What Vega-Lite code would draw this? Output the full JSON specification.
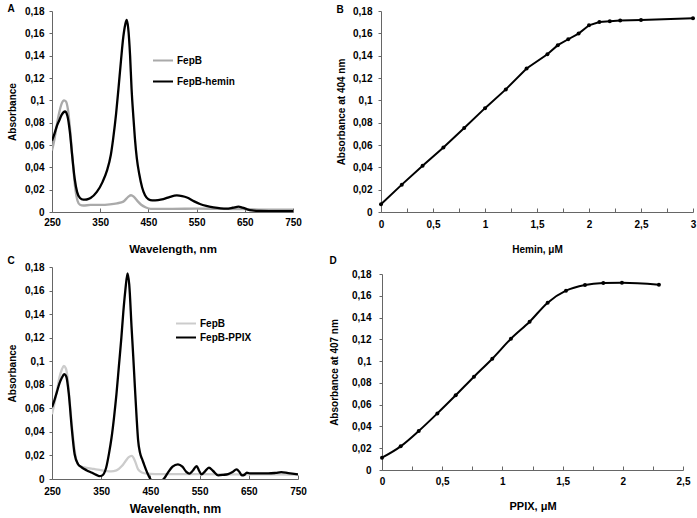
{
  "$schema": "https://vega.github.io/schema/vega-lite/v6.json",
  "autosize": {"type": "pad"},
  "padding": {"left": 7, "top": 4, "right": 0, "bottom": 0},
  "background": "white",
  "spacing": 1,
  "resolve": {"scale": {"color": "independent"}, "legend": {"color": "independent"}},
  "config": {
    "font": "Liberation Sans",
    "view": {"stroke": null},
    "axis": {
      "grid": false,
      "domainColor": "#666666",
      "tickColor": "#666666",
      "labelFont": "Liberation Sans",
      "titleFont": "Liberation Sans",
      "labelFontWeight": "bold",
      "titleFontWeight": "bold",
      "labelFontSize": 10,
      "titleFontSize": 10,
      "labelColor": "#000000",
      "titleColor": "#000000",
      "labelOverlap": false,
      "labelFlush": false
    },
    "title": {"font": "Liberation Sans", "fontSize": 10, "fontWeight": "bold", "anchor": "start", "frame": "bounds", "color": "#000000"},
    "legend": {"labelFont": "Liberation Sans", "labelFontSize": 10, "labelFontWeight": "bold", "labelColor": "#000000"}
  },
  "vconcat": [
    {
      "spacing": 34,
      "resolve": {"scale": {"color": "independent"}, "legend": {"color": "independent"}},
      "hconcat": [
        {
          "width": 241,
          "height": 201,
          "title": {"text": "A", "offset": -8},
          "data": {"values": [
            {"s": "FepB", "wl": 250, "a": 0.055}, {"s": "FepB", "wl": 255, "a": 0.065}, {"s": "FepB", "wl": 260, "a": 0.078}, {"s": "FepB", "wl": 265, "a": 0.089}, {"s": "FepB", "wl": 270, "a": 0.097}, {"s": "FepB", "wl": 275, "a": 0.1}, {"s": "FepB", "wl": 279, "a": 0.099}, {"s": "FepB", "wl": 283, "a": 0.092}, {"s": "FepB", "wl": 288, "a": 0.072}, {"s": "FepB", "wl": 293, "a": 0.045}, {"s": "FepB", "wl": 298, "a": 0.022}, {"s": "FepB", "wl": 303, "a": 0.01}, {"s": "FepB", "wl": 308, "a": 0.0065}, {"s": "FepB", "wl": 315, "a": 0.0058}, {"s": "FepB", "wl": 330, "a": 0.0063}, {"s": "FepB", "wl": 350, "a": 0.0063}, {"s": "FepB", "wl": 370, "a": 0.0068}, {"s": "FepB", "wl": 385, "a": 0.0078}, {"s": "FepB", "wl": 398, "a": 0.0093}, {"s": "FepB", "wl": 408, "a": 0.0135}, {"s": "FepB", "wl": 414, "a": 0.015}, {"s": "FepB", "wl": 420, "a": 0.0135}, {"s": "FepB", "wl": 428, "a": 0.0095}, {"s": "FepB", "wl": 435, "a": 0.0065}, {"s": "FepB", "wl": 445, "a": 0.004}, {"s": "FepB", "wl": 455, "a": 0.0028}, {"s": "FepB", "wl": 500, "a": 0.0028}, {"s": "FepB", "wl": 550, "a": 0.003}, {"s": "FepB", "wl": 600, "a": 0.0028}, {"s": "FepB", "wl": 650, "a": 0.0025}, {"s": "FepB", "wl": 700, "a": 0.002}, {"s": "FepB", "wl": 750, "a": 0.002},
            {"s": "FepB-hemin", "wl": 250, "a": 0.064}, {"s": "FepB-hemin", "wl": 255, "a": 0.07}, {"s": "FepB-hemin", "wl": 260, "a": 0.077}, {"s": "FepB-hemin", "wl": 265, "a": 0.082}, {"s": "FepB-hemin", "wl": 270, "a": 0.087}, {"s": "FepB-hemin", "wl": 277, "a": 0.09}, {"s": "FepB-hemin", "wl": 282, "a": 0.086}, {"s": "FepB-hemin", "wl": 287, "a": 0.072}, {"s": "FepB-hemin", "wl": 292, "a": 0.05}, {"s": "FepB-hemin", "wl": 297, "a": 0.03}, {"s": "FepB-hemin", "wl": 302, "a": 0.018}, {"s": "FepB-hemin", "wl": 308, "a": 0.0125}, {"s": "FepB-hemin", "wl": 315, "a": 0.011}, {"s": "FepB-hemin", "wl": 322, "a": 0.0112}, {"s": "FepB-hemin", "wl": 330, "a": 0.0125}, {"s": "FepB-hemin", "wl": 343, "a": 0.018}, {"s": "FepB-hemin", "wl": 355, "a": 0.027}, {"s": "FepB-hemin", "wl": 364, "a": 0.037}, {"s": "FepB-hemin", "wl": 372, "a": 0.051}, {"s": "FepB-hemin", "wl": 377, "a": 0.066}, {"s": "FepB-hemin", "wl": 383, "a": 0.088}, {"s": "FepB-hemin", "wl": 388, "a": 0.111}, {"s": "FepB-hemin", "wl": 393, "a": 0.135}, {"s": "FepB-hemin", "wl": 398, "a": 0.157}, {"s": "FepB-hemin", "wl": 402, "a": 0.168}, {"s": "FepB-hemin", "wl": 405, "a": 0.172}, {"s": "FepB-hemin", "wl": 408, "a": 0.165}, {"s": "FepB-hemin", "wl": 412, "a": 0.14}, {"s": "FepB-hemin", "wl": 415, "a": 0.111}, {"s": "FepB-hemin", "wl": 419, "a": 0.084}, {"s": "FepB-hemin", "wl": 422, "a": 0.066}, {"s": "FepB-hemin", "wl": 426, "a": 0.048}, {"s": "FepB-hemin", "wl": 431, "a": 0.034}, {"s": "FepB-hemin", "wl": 437, "a": 0.022}, {"s": "FepB-hemin", "wl": 443, "a": 0.015}, {"s": "FepB-hemin", "wl": 450, "a": 0.0115}, {"s": "FepB-hemin", "wl": 458, "a": 0.0105}, {"s": "FepB-hemin", "wl": 470, "a": 0.0107}, {"s": "FepB-hemin", "wl": 481, "a": 0.0115}, {"s": "FepB-hemin", "wl": 495, "a": 0.0136}, {"s": "FepB-hemin", "wl": 509, "a": 0.0148}, {"s": "FepB-hemin", "wl": 520, "a": 0.0142}, {"s": "FepB-hemin", "wl": 530, "a": 0.013}, {"s": "FepB-hemin", "wl": 545, "a": 0.0095}, {"s": "FepB-hemin", "wl": 557, "a": 0.0072}, {"s": "FepB-hemin", "wl": 570, "a": 0.0055}, {"s": "FepB-hemin", "wl": 585, "a": 0.0042}, {"s": "FepB-hemin", "wl": 600, "a": 0.0033}, {"s": "FepB-hemin", "wl": 612, "a": 0.003}, {"s": "FepB-hemin", "wl": 625, "a": 0.0038}, {"s": "FepB-hemin", "wl": 637, "a": 0.0048}, {"s": "FepB-hemin", "wl": 645, "a": 0.004}, {"s": "FepB-hemin", "wl": 655, "a": 0.0024}, {"s": "FepB-hemin", "wl": 665, "a": 0.0014}, {"s": "FepB-hemin", "wl": 680, "a": 0.0009}, {"s": "FepB-hemin", "wl": 700, "a": 0.0008}, {"s": "FepB-hemin", "wl": 750, "a": 0.0008}
          ]},
          "mark": {"type": "line", "interpolate": "monotone", "strokeWidth": 2.3, "clip": true},
          "encoding": {
            "x": {"field": "wl", "type": "quantitative", "scale": {"domain": [250, 750], "nice": false},
              "axis": {"title": "Wavelength, nm", "titleFontSize": 11.5, "values": [250, 350, 450, 550, 650, 750], "tickSize": -4, "labelPadding": 9, "titlePadding": 16}},
            "y": {"field": "a", "type": "quantitative", "scale": {"domain": [0, 0.18], "nice": false},
              "axis": {"title": "Absorbance", "values": [0, 0.02, 0.04, 0.06, 0.08, 0.1, 0.12, 0.14, 0.16, 0.18], "labelExpr": "replace(format(datum.value, '~g'), '.', ',')", "tickSize": 3, "labelPadding": 5, "titlePadding": 7}},
            "color": {"field": "s", "type": "nominal", "scale": {"domain": ["FepB", "FepB-hemin"], "range": ["#aaaaaa", "#000000"]},
              "legend": {"orient": "none", "legendX": 100, "legendY": 41, "title": null, "symbolType": "stroke", "symbolSize": 400, "symbolStrokeWidth": 2, "labelOffset": 3, "clipHeight": 17, "rowPadding": 4}}
          }
        },
        {
          "width": 312,
          "height": 201,
          "title": {"text": "B", "offset": -9},
          "data": {"values": [
            {"c": 0, "a": 0.007}, {"c": 0.2, "a": 0.0245}, {"c": 0.4, "a": 0.0415}, {"c": 0.6, "a": 0.0578}, {"c": 0.8, "a": 0.0753}, {"c": 1.0, "a": 0.093}, {"c": 1.2, "a": 0.1098}, {"c": 1.4, "a": 0.1285}, {"c": 1.6, "a": 0.1413}, {"c": 1.7, "a": 0.1494}, {"c": 1.8, "a": 0.1547}, {"c": 1.9, "a": 0.1598}, {"c": 2.0, "a": 0.1672}, {"c": 2.1, "a": 0.1702}, {"c": 2.2, "a": 0.1708}, {"c": 2.3, "a": 0.1714}, {"c": 2.5, "a": 0.172}, {"c": 3.0, "a": 0.1735}
          ]},
          "mark": {"type": "line", "color": "#000000", "strokeWidth": 2, "point": {"filled": true, "size": 16, "color": "#000000"}},
          "encoding": {
            "x": {"field": "c", "type": "quantitative", "scale": {"domain": [0, 3], "nice": false},
              "axis": {"title": "Hemin, μM", "values": [0, 0.25, 0.5, 0.75, 1, 1.25, 1.5, 1.75, 2, 2.25, 2.5, 2.75, 3], "labelExpr": "datum.value % 0.5 == 0 ? replace(format(datum.value, '~g'), '.', ',') : ''", "tickSize": -4, "labelPadding": 11, "titlePadding": 15}},
            "y": {"field": "a", "type": "quantitative", "scale": {"domain": [0, 0.18], "nice": false},
              "axis": {"title": "Absorbance at 404 nm", "values": [0, 0.02, 0.04, 0.06, 0.08, 0.1, 0.12, 0.14, 0.16, 0.18], "labelExpr": "replace(format(datum.value, '~g'), '.', ',')", "tickSize": 3, "labelPadding": 6, "titlePadding": 6}}
          }
        }
      ]
    },
    {
      "spacing": 22,
      "resolve": {"scale": {"color": "independent"}, "legend": {"color": "independent"}},
      "hconcat": [
        {
          "width": 246,
          "height": 212,
          "title": {"text": "C", "offset": -4},
          "data": {"values": [
            {"s": "FepB", "wl": 250, "a": 0.055}, {"s": "FepB", "wl": 255, "a": 0.064}, {"s": "FepB", "wl": 260, "a": 0.075}, {"s": "FepB", "wl": 265, "a": 0.086}, {"s": "FepB", "wl": 270, "a": 0.093}, {"s": "FepB", "wl": 274, "a": 0.096}, {"s": "FepB", "wl": 278, "a": 0.094}, {"s": "FepB", "wl": 282, "a": 0.085}, {"s": "FepB", "wl": 286, "a": 0.066}, {"s": "FepB", "wl": 291, "a": 0.043}, {"s": "FepB", "wl": 296, "a": 0.025}, {"s": "FepB", "wl": 300, "a": 0.0153}, {"s": "FepB", "wl": 306, "a": 0.011}, {"s": "FepB", "wl": 320, "a": 0.0095}, {"s": "FepB", "wl": 335, "a": 0.0085}, {"s": "FepB", "wl": 347, "a": 0.0077}, {"s": "FepB", "wl": 360, "a": 0.0068}, {"s": "FepB", "wl": 370, "a": 0.0064}, {"s": "FepB", "wl": 381, "a": 0.0073}, {"s": "FepB", "wl": 392, "a": 0.011}, {"s": "FepB", "wl": 400, "a": 0.0155}, {"s": "FepB", "wl": 406, "a": 0.0185}, {"s": "FepB", "wl": 412, "a": 0.0196}, {"s": "FepB", "wl": 418, "a": 0.016}, {"s": "FepB", "wl": 425, "a": 0.0082}, {"s": "FepB", "wl": 433, "a": 0.0055}, {"s": "FepB", "wl": 442, "a": 0.0045}, {"s": "FepB", "wl": 460, "a": 0.0042}, {"s": "FepB", "wl": 500, "a": 0.0042}, {"s": "FepB", "wl": 600, "a": 0.004}, {"s": "FepB", "wl": 700, "a": 0.004}, {"s": "FepB", "wl": 750, "a": 0.0038},
            {"s": "FepB-PPIX", "wl": 250, "a": 0.061}, {"s": "FepB-PPIX", "wl": 255, "a": 0.067}, {"s": "FepB-PPIX", "wl": 260, "a": 0.074}, {"s": "FepB-PPIX", "wl": 265, "a": 0.081}, {"s": "FepB-PPIX", "wl": 270, "a": 0.086}, {"s": "FepB-PPIX", "wl": 275, "a": 0.089}, {"s": "FepB-PPIX", "wl": 279, "a": 0.087}, {"s": "FepB-PPIX", "wl": 284, "a": 0.073}, {"s": "FepB-PPIX", "wl": 290, "a": 0.044}, {"s": "FepB-PPIX", "wl": 296, "a": 0.021}, {"s": "FepB-PPIX", "wl": 303, "a": 0.0125}, {"s": "FepB-PPIX", "wl": 310, "a": 0.01}, {"s": "FepB-PPIX", "wl": 320, "a": 0.0075}, {"s": "FepB-PPIX", "wl": 330, "a": 0.0055}, {"s": "FepB-PPIX", "wl": 340, "a": 0.0035}, {"s": "FepB-PPIX", "wl": 346, "a": 0.0025}, {"s": "FepB-PPIX", "wl": 352, "a": 0.003}, {"s": "FepB-PPIX", "wl": 360, "a": 0.0095}, {"s": "FepB-PPIX", "wl": 366, "a": 0.022}, {"s": "FepB-PPIX", "wl": 371, "a": 0.035}, {"s": "FepB-PPIX", "wl": 376, "a": 0.052}, {"s": "FepB-PPIX", "wl": 381, "a": 0.072}, {"s": "FepB-PPIX", "wl": 386, "a": 0.096}, {"s": "FepB-PPIX", "wl": 391, "a": 0.12}, {"s": "FepB-PPIX", "wl": 395, "a": 0.142}, {"s": "FepB-PPIX", "wl": 399, "a": 0.16}, {"s": "FepB-PPIX", "wl": 403.5, "a": 0.1745}, {"s": "FepB-PPIX", "wl": 407, "a": 0.165}, {"s": "FepB-PPIX", "wl": 411.7, "a": 0.129}, {"s": "FepB-PPIX", "wl": 415, "a": 0.105}, {"s": "FepB-PPIX", "wl": 418.5, "a": 0.078}, {"s": "FepB-PPIX", "wl": 422, "a": 0.052}, {"s": "FepB-PPIX", "wl": 425, "a": 0.033}, {"s": "FepB-PPIX", "wl": 429, "a": 0.022}, {"s": "FepB-PPIX", "wl": 433, "a": 0.017}, {"s": "FepB-PPIX", "wl": 437, "a": 0.0125}, {"s": "FepB-PPIX", "wl": 441, "a": 0.008}, {"s": "FepB-PPIX", "wl": 445, "a": 0.004}, {"s": "FepB-PPIX", "wl": 450, "a": 0.0}, {"s": "FepB-PPIX", "wl": 456, "a": -0.003}, {"s": "FepB-PPIX", "wl": 465, "a": -0.004}, {"s": "FepB-PPIX", "wl": 472, "a": -0.002}, {"s": "FepB-PPIX", "wl": 477, "a": 0.0}, {"s": "FepB-PPIX", "wl": 485, "a": 0.005}, {"s": "FepB-PPIX", "wl": 495, "a": 0.0105}, {"s": "FepB-PPIX", "wl": 506, "a": 0.0125}, {"s": "FepB-PPIX", "wl": 515, "a": 0.0105}, {"s": "FepB-PPIX", "wl": 523, "a": 0.006}, {"s": "FepB-PPIX", "wl": 529, "a": 0.0045}, {"s": "FepB-PPIX", "wl": 536, "a": 0.007}, {"s": "FepB-PPIX", "wl": 544, "a": 0.011}, {"s": "FepB-PPIX", "wl": 549, "a": 0.007}, {"s": "FepB-PPIX", "wl": 554, "a": 0.004}, {"s": "FepB-PPIX", "wl": 561, "a": 0.0065}, {"s": "FepB-PPIX", "wl": 569, "a": 0.0096}, {"s": "FepB-PPIX", "wl": 577, "a": 0.007}, {"s": "FepB-PPIX", "wl": 588, "a": 0.0031}, {"s": "FepB-PPIX", "wl": 598, "a": 0.0035}, {"s": "FepB-PPIX", "wl": 608, "a": 0.0042}, {"s": "FepB-PPIX", "wl": 617, "a": 0.006}, {"s": "FepB-PPIX", "wl": 625, "a": 0.0082}, {"s": "FepB-PPIX", "wl": 631, "a": 0.006}, {"s": "FepB-PPIX", "wl": 636, "a": 0.003}, {"s": "FepB-PPIX", "wl": 641, "a": 0.0035}, {"s": "FepB-PPIX", "wl": 646, "a": 0.0054}, {"s": "FepB-PPIX", "wl": 652, "a": 0.0048}, {"s": "FepB-PPIX", "wl": 670, "a": 0.0048}, {"s": "FepB-PPIX", "wl": 690, "a": 0.0047}, {"s": "FepB-PPIX", "wl": 705, "a": 0.0052}, {"s": "FepB-PPIX", "wl": 716, "a": 0.0058}, {"s": "FepB-PPIX", "wl": 730, "a": 0.005}, {"s": "FepB-PPIX", "wl": 750, "a": 0.004}
          ]},
          "mark": {"type": "line", "interpolate": "monotone", "strokeWidth": 2.3, "clip": true},
          "encoding": {
            "x": {"field": "wl", "type": "quantitative", "scale": {"domain": [250, 750], "nice": false},
              "axis": {"title": "Wavelength, nm", "titleFontSize": 12, "values": [250, 350, 450, 550, 650, 750], "tickSize": -4, "labelPadding": 11, "titlePadding": 7}},
            "y": {"field": "a", "type": "quantitative", "scale": {"domain": [0, 0.18], "nice": false},
              "axis": {"title": "Absorbance", "values": [0, 0.02, 0.04, 0.06, 0.08, 0.1, 0.12, 0.14, 0.16, 0.18], "labelExpr": "replace(format(datum.value, '~g'), '.', ',')", "tickSize": 3, "labelPadding": 5, "titlePadding": 7}},
            "color": {"field": "s", "type": "nominal", "scale": {"domain": ["FepB", "FepB-PPIX"], "range": ["#cccccc", "#000000"]},
              "legend": {"orient": "none", "legendX": 123, "legendY": 50, "title": null, "symbolType": "stroke", "symbolSize": 400, "symbolStrokeWidth": 2, "labelOffset": 3, "clipHeight": 13, "rowPadding": 1}}
          }
        },
        {
          "width": 301,
          "height": 203,
          "title": {"text": "D", "offset": 1},
          "data": {"values": [
            {"c": 0, "a": 0.0113}, {"c": 0.155, "a": 0.0217}, {"c": 0.305, "a": 0.0358}, {"c": 0.46, "a": 0.052}, {"c": 0.612, "a": 0.0686}, {"c": 0.764, "a": 0.0857}, {"c": 0.916, "a": 0.1022}, {"c": 1.071, "a": 0.1206}, {"c": 1.226, "a": 0.1362}, {"c": 1.376, "a": 0.1537}, {"c": 1.528, "a": 0.1647}, {"c": 1.686, "a": 0.1699}, {"c": 1.838, "a": 0.1717}, {"c": 1.993, "a": 0.172}, {"c": 2.3, "a": 0.1702}
          ]},
          "mark": {"type": "line", "interpolate": "monotone", "color": "#000000", "strokeWidth": 2, "point": {"filled": true, "size": 16, "color": "#000000"}},
          "encoding": {
            "x": {"field": "c", "type": "quantitative", "scale": {"domain": [0, 2.5], "nice": false},
              "axis": {"title": "PPIX, μM", "titleFontSize": 11, "values": [0, 0.25, 0.5, 0.75, 1, 1.25, 1.5, 1.75, 2, 2.25, 2.5], "labelExpr": "datum.value % 0.5 == 0 ? replace(format(datum.value, '~g'), '.', ',') : ''", "tickSize": -4, "labelPadding": 10, "titlePadding": 14}},
            "y": {"field": "a", "type": "quantitative", "scale": {"domain": [0, 0.18], "nice": false, "range": [203, 7]},
              "axis": {"title": "Absorbance at 407 nm", "values": [0, 0.02, 0.04, 0.06, 0.08, 0.1, 0.12, 0.14, 0.16, 0.18], "labelExpr": "replace(format(datum.value, '~g'), '.', ',')", "tickSize": 3, "labelPadding": 8, "titlePadding": 12}}
          }
        }
      ]
    }
  ]
}
